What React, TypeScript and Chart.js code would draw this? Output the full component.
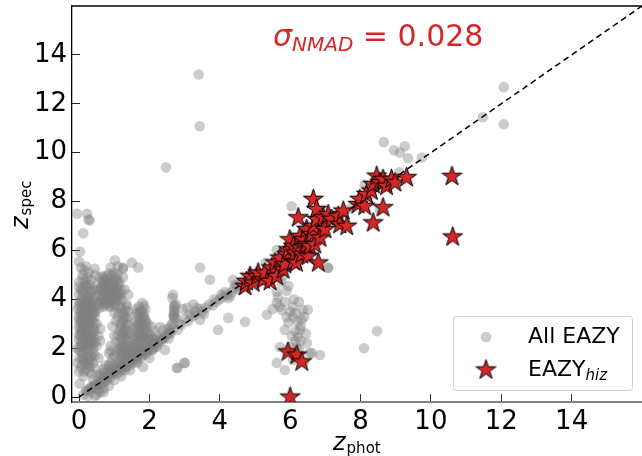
import React, { useEffect, useRef } from "react";
import { Chart, registerables } from "chart.js";
Chart.register(...registerables);

// ---------- data ----------
const axisMin = -0.2;
const axisMax = 16;
const axisTicks = [0, 2, 4, 6, 8, 10, 12, 14];
const oneToOne = [0, 16];
const sigmaNmad = "0.028";

// All EAZY (z_phot, z_spec)
const grayLeftColumn: [number, number][] = [
  [0.02,0.55],[0.12,0.85],[0.0,1.05],[0.2,1.15],[0.08,1.3],[0.3,1.05],[0.15,1.45],[0.02,1.6],[0.25,1.55],[0.4,1.4],
  [0.1,1.75],[0.3,1.8],[0.0,1.95],[0.18,1.95],[0.45,1.7],[0.55,1.6],[0.5,2.1],[0.6,2.3],[0.37,0.95],[0.45,1.2],
  [0.05,2.1],[0.2,2.15],[0.35,2.2],[0.0,2.35],[0.12,2.4],[0.28,2.4],[0.42,2.45],[0.06,2.6],[0.2,2.65],[0.35,2.65],
  [0.0,2.85],[0.14,2.85],[0.28,2.9],[0.42,2.85],[0.07,3.05],[0.22,3.1],[0.36,3.1],[0.0,3.3],[0.14,3.3],[0.3,3.3],
  [0.45,3.3],[0.06,3.5],[0.2,3.55],[0.36,3.5],[0.0,3.75],[0.13,3.75],[0.28,3.75],[0.42,3.7],[0.08,3.95],[0.22,3.95],
  [0.36,3.9],[0.1,2.25],[0.25,2.55],[0.04,2.75],[0.32,3.0],[0.17,3.2],[0.4,3.55],[0.1,3.6],[0.25,3.85],[0.15,2.5],
  [0.3,2.1],[0.2,3.4],[0.05,3.15],[0.55,2.5],[0.6,2.8],[0.5,3.0],
  [0.1,2.05],[0.25,2.1],[0.4,2.15],[0.03,2.5],[0.18,2.35],[0.33,2.45],[0.08,2.7],[0.24,2.75],[0.38,2.75],[0.02,3.0],
  [0.18,2.95],[0.3,3.15],[0.42,3.05],[0.1,3.2],[0.25,3.25],[0.38,3.35],[0.03,3.45],[0.15,3.45],[0.28,3.55],[0.08,3.7],
  [0.2,3.7],[0.34,3.65],[0.45,3.5],[0.0,3.9],[0.15,3.9],[0.3,3.95],[0.12,2.95],[0.22,2.25],[0.36,2.35],[0.05,2.25],
  [0.05,1.2],[0.2,1.35],[0.3,1.5],[0.1,1.55],[0.22,1.7],[0.35,1.65],[0.05,1.85],[0.25,1.95],[0.4,2.0],[0.15,1.05],
  [0.3,1.25],
  [-0.05,1.4],[0.12,1.6],[0.28,1.4],[0.4,1.8],[-0.05,2.0],[0.15,2.1],[0.32,2.3],[0.45,2.25],[0.0,2.55],[0.2,2.45],
  [0.38,2.6],[0.1,2.8],[0.25,2.95],[0.45,2.7],[0.0,3.15],[0.18,3.1],[0.35,3.2],[0.08,3.35],[0.28,3.45],[0.45,3.45],
  [-0.03,3.6],[0.18,3.6],[0.35,3.8],[0.05,3.85],[0.24,4.1],[0.4,4.0],[0.12,4.3],[0.3,4.35],[0.0,4.5],[0.15,4.55],
  [0.0,4.2],[0.15,4.25],[0.3,4.15],[0.45,4.1],[0.08,4.45],[0.25,4.5],[0.4,4.4],[0.0,4.7],[0.18,4.75],[0.35,4.8],
  [0.1,5.0],[0.28,5.1],[0.45,5.0],[0.05,5.3],[0.2,5.35],[0.0,5.55],[0.03,5.95],[0.12,6.7],[-0.06,7.5],[0.23,7.5],
  [0.27,7.27],[0.3,7.22],[0.1,4.1],[0.22,4.05],[0.35,4.3],[0.05,4.35],[0.2,4.6],[0.3,4.6],[0.1,4.85],[0.25,4.9],
  [0.15,5.2]
];
const grayMidCluster: [number, number][] = [
  [0.55,3.75],[0.7,3.7],[0.85,3.75],[1.0,3.8],[1.15,3.7],[0.62,3.95],[0.78,4.0],[0.92,3.95],[1.08,4.0],[1.22,3.95],
  [0.55,4.2],[0.7,4.2],[0.85,4.25],[1.0,4.2],[1.15,4.25],[0.62,4.45],[0.78,4.45],[0.92,4.5],[1.08,4.45],[0.7,4.7],
  [0.85,4.7],[1.0,4.75],[1.15,4.7],[0.6,4.9],[0.78,4.95],[0.95,5.0],[1.1,5.0],[0.72,4.35],[0.95,4.35],[0.82,3.85],
  [1.3,4.4],[1.35,3.8],[1.25,4.9],[1.4,4.2],[0.9,5.3],[1.02,5.6],[1.1,5.35],[1.25,5.3],[1.25,5.25],[1.5,5.5],
  [1.68,5.3],[0.45,5.25],[0.5,4.6],
  [0.6,3.85],[0.75,3.9],[0.9,3.85],[1.05,3.9],[0.65,4.1],[0.8,4.15],[0.95,4.1],[1.1,4.15],[0.6,4.35],[0.75,4.55],
  [0.88,4.4],[1.02,4.35],[1.2,4.4],[0.68,4.6],[0.82,4.6],[0.98,4.6],[1.12,4.6],[0.72,4.85],[0.88,4.85],[1.05,4.9],
  [0.65,4.75],[1.2,4.2],[0.5,3.9],[0.5,4.4],
  [0.58,3.65],[0.72,3.8],[0.88,3.7],[1.02,3.7],[0.68,4.0],[0.85,4.05],[1.0,4.05],[1.15,4.05],[0.68,4.3],[0.82,4.35],
  [0.95,4.25],[1.08,4.3],[0.72,4.5],[0.85,4.5],[1.0,4.5],[0.78,4.75],[0.92,4.7],[1.08,4.75],[0.68,4.95],[0.85,5.05],
  [1.0,5.1]
];
const grayLowCluster: [number, number][] = [
  [0.12,0.1],[0.2,0.25],[0.3,0.2],[0.35,0.4],[0.45,0.35],[0.5,0.55],[0.6,0.5],[0.65,0.7],[0.75,0.65],[0.8,0.85],
  [0.9,0.8],[0.95,1.0],[1.05,0.95],[1.1,1.15],[1.2,1.1],[1.25,1.3],[1.35,1.25],[1.4,1.45],[1.5,1.4],[1.55,1.6],
  [1.65,1.55],[1.7,1.75],[1.8,1.7],[1.85,1.9],[1.95,1.85],[2.0,2.05],[2.1,2.0],[2.15,2.2],[2.25,2.2],[2.3,2.35],
  [2.4,2.4],[2.5,2.55],[2.6,2.6],[0.5,0.1],[0.6,0.2],[0.4,0.7],[0.55,0.85],[0.7,1.0],[0.85,1.15],[0.75,1.3],
  [0.9,1.4],[1.0,1.3],[0.6,0.95],
  [0.25,0.3],[0.4,0.45],[0.55,0.5],[0.7,0.6],[0.8,0.7],[0.9,0.9],[1.0,1.05],[1.15,1.0],[1.3,1.2],[1.45,1.3],
  [1.6,1.45],[1.75,1.6],[1.9,1.75],[2.05,1.95],[2.2,2.05],[2.35,2.3],[2.45,2.45],[2.55,2.4],
  [0.3,0.35],[0.45,0.5],[0.6,0.65],[0.75,0.8],[0.9,1.0],[1.05,1.15],[1.2,1.3],[1.35,1.4],[1.5,1.5],[1.65,1.65],
  [1.8,1.8],[1.95,1.95],[2.1,2.15],[2.25,2.3],[2.4,2.5],[2.55,2.65],
  [0.7,0.2],[0.85,0.45],[1.0,0.7],[0.45,0.05],[0.25,0.05],[0.55,0.3],
  [0.65,0.85],[0.8,1.0],[0.95,1.2],[0.85,1.3],[1.0,1.7],[0.9,1.9],[0.7,1.15],
  [1.15,1.35],[1.3,1.5],[1.2,1.7],[1.35,1.85],[1.15,2.0],[1.3,2.15],[1.4,2.3],[1.2,2.4],[1.35,2.55],[1.15,2.7],
  [1.3,2.8],[1.4,2.95],[1.2,3.05],[1.35,3.2],[1.25,3.4],[1.4,3.5],[1.2,3.65],[1.35,3.7],[1.1,3.3],[1.45,2.6],
  [1.05,2.25],[1.25,1.95],
  [1.1,1.5],[1.25,1.6],[1.35,1.7],[1.2,1.85],[1.3,2.0],[1.15,2.2],[1.25,2.25],[1.38,2.4],[1.25,2.55],[1.1,2.55],
  [1.2,2.85],[1.35,3.0],[1.25,3.15],[1.15,3.45],[1.3,3.55],[1.28,2.65],[1.18,1.45],[1.3,1.1],
  [1.18,1.25],[1.32,1.4],[1.22,1.55],[1.38,1.6],[1.28,1.8],[1.15,1.9],[1.4,2.1],[1.2,2.1],[1.32,2.35],[1.22,2.6],
  [1.38,2.75],[1.18,2.95],[1.3,3.3],[1.42,3.3],
  [1.45,1.6],[1.5,1.8],[1.55,1.7],[1.45,2.0],[1.55,2.1],[1.5,1.55],
  [1.4,1.75],[1.5,1.7],[1.58,1.85],[1.48,1.9],[1.55,2.0],[1.6,2.15],[2.05,2.2],[2.0,2.35],[2.15,2.35],
  [0.95,1.6],[1.05,1.85],[0.9,2.1],[1.0,2.5],[0.95,2.9],[1.05,3.1],[0.85,1.8],[1.0,3.45],
  [1.6,1.9],[1.75,1.95],[1.9,2.05],[1.65,2.2],[1.8,2.25],[1.95,2.3],[1.7,2.45],[1.85,2.5],[2.0,2.55],[1.6,2.65],
  [1.75,2.7],[1.9,2.75],[1.65,2.95],[1.8,3.0],[1.95,3.0],[1.7,3.2],[1.85,3.25],[1.65,3.45],[1.8,3.5],[1.7,3.7],
  [1.85,3.75],[1.55,2.4],[1.5,2.0],[1.55,2.8],
  [1.7,2.05],[1.85,2.15],[1.65,2.35],[1.8,2.4],[1.95,2.45],[1.7,2.6],[1.85,2.65],[1.65,2.8],[1.8,2.85],[1.9,2.9],
  [1.75,3.1],[1.9,3.15],[1.7,3.35],[1.85,3.4],[1.75,3.55],[1.8,3.85],[1.6,3.1],[1.75,1.85],[1.62,1.7],[1.9,1.95],
  [1.68,1.95],[1.82,2.0],[1.72,2.3],[1.9,2.35],[1.62,2.5],[1.78,2.55],[1.95,2.65],[1.72,2.9],[1.88,3.05],[1.68,3.05],
  [1.82,3.3],[1.72,3.45],[1.88,3.6],[1.62,3.6],
  [2.1,2.4],[2.2,2.5],[2.3,2.87],[2.15,2.7],[2.4,2.75],[2.05,2.9],[2.44,1.93],[2.1,1.93],[1.82,1.23],[1.65,1.4],
  [2.2,2.1],[2.0,1.6],[1.45,1.1],[1.2,0.85],[0.7,0.35],[2.8,1.2],[3.0,1.4]
];
const grayMidDiagonal: [number, number][] = [
  [2.67,4.19],[2.7,3.2],[2.72,3.4],[2.7,3.6],[2.75,3.8],[2.65,3.0],[2.8,2.75],[2.55,2.8],[2.9,2.95],[3.07,3.65],
  [3.1,3.1],[3.2,3.3],[3.35,3.65],[3.3,3.35],[3.44,3.16],[3.5,3.5],[3.6,3.65],[3.44,5.3],[3.72,4.8],[3.8,3.75],
  [3.95,2.75],[3.9,3.9],[4.0,4.0],[4.1,4.1],[4.24,3.24],[4.2,4.2],[4.3,4.15],[4.35,4.3],[4.38,4.8],[4.4,4.45],
  [4.5,4.55],[4.6,4.6],[4.72,3.08],[4.65,4.75],[4.8,4.75],[3.0,1.4],[2.78,1.19],[2.95,3.6],[3.25,3.8],
  [2.6,2.9],[2.85,3.0],[3.0,3.2],[3.15,3.4],[3.3,3.5],[3.45,3.6],[3.55,3.4],[3.7,3.8],[3.85,4.0],[4.05,4.2],
  [4.15,4.3],[4.25,4.05],[4.45,4.6],[4.55,4.4],[2.7,3.3],[2.72,3.7],
  [2.7,3.5],[2.68,3.35],[2.74,3.25],[2.7,3.75],[2.65,4.05],[2.58,2.65],[2.68,2.8]
];
const graySpur: [number, number][] = [
  [5.34,3.37],[5.62,4.31],[5.62,3.86],[5.76,3.57],[5.9,3.28],[5.85,2.75],[6.08,3.69],[6.08,3.28],[6.36,3.57],[6.5,3.57],
  [6.33,3.16],[6.28,2.75],[6.22,2.46],[6.19,2.05],[5.62,1.4],[5.85,1.11],[6.08,1.52],[6.56,1.8],[6.0,2.05],[5.71,2.05],
  [6.48,2.2],[5.75,4.7],[5.9,4.35],[5.8,4.95],[6.1,4.0],[6.3,2.9],[6.25,3.9],[5.95,4.55],[6.62,1.8],[6.4,1.45],
  [6.85,1.72],[8.1,2.0],[8.47,2.7],[7.07,5.3],[6.15,2.3],
  [5.65,4.1],[5.7,3.7],[5.85,3.9],[6.0,3.5],[6.15,3.45],[6.2,3.1],[6.15,2.7],[6.05,2.5],[6.3,2.3],[6.25,1.95],
  [6.1,1.75],[5.9,1.9],[6.4,3.3],[5.95,3.05],[5.5,3.6],[6.45,2.6]
];
const grayHighZ: [number, number][] = [
  [5.0,5.0],[5.3,5.5],[5.6,5.6],[5.9,6.0],[6.2,6.3],[6.5,6.6],[6.8,7.0],[7.1,7.2],[7.4,7.4],[7.7,7.7],
  [8.0,8.0],[8.3,8.3],[8.6,8.6],[8.9,8.9],[9.1,9.2],[5.62,6.03],[6.04,7.81],[7.08,5.28],[8.12,8.7],[8.55,7.68],
  [8.66,10.43],[8.95,10.1],[9.12,10.0],[9.26,10.26],[9.35,9.77],[9.74,9.8],[11.48,11.45],[12.07,12.68],[12.07,11.16],
  [3.4,13.2],[3.43,11.08],[2.47,9.4]
];
// EAZY_hiz (z_phot, z_spec)
const hizPoints: [number, number][] = [
  [4.72,4.53],[4.76,4.73],[4.86,4.94],[4.95,4.67],[5.06,4.93],[5.09,5.08],[5.24,4.8],[5.28,5.08],[5.43,4.73],[5.47,5.28],
  [5.57,5.49],[5.62,4.94],[5.71,5.69],[5.8,5.21],[5.85,5.42],[5.9,5.83],[5.95,6.03],[5.99,6.44],[6.09,6.17],[6.09,5.55],
  [6.14,5.9],[6.18,5.49],[6.23,7.34],[6.28,6.1],[6.28,6.58],[6.33,5.83],[6.37,6.44],[6.47,6.24],[6.47,6.86],[6.51,5.76],
  [6.56,6.17],[6.61,6.65],[6.66,6.99],[6.66,8.09],[6.7,6.24],[6.75,7.27],[6.75,7.68],[6.8,5.49],[6.85,6.51],[6.94,7.34],
  [6.99,6.86],[7.08,7.47],[7.18,7.27],[7.37,7.4],[7.41,7.06],[7.51,7.61],[7.61,6.99],[7.93,7.88],[7.98,8.09],[8.12,7.81],
  [8.17,8.29],[8.31,8.43],[8.36,8.7],[8.36,7.13],[8.46,9.04],[8.55,8.77],[8.64,8.91],[8.64,7.75],[8.74,8.63],[8.88,8.91],
  [8.98,8.77],[9.31,8.98],[10.6,9.03],[10.62,6.55],[5.94,1.85],[6.19,1.72],[6.33,1.44],[6.0,0.0]
];

const allEazyPoints = [
  ...grayLeftColumn, ...grayMidCluster, ...grayLowCluster,
  ...grayMidDiagonal, ...graySpur, ...grayHighZ,
];

// ---------- styles ----------
const FONT = '"DejaVu Sans"';
const RED = "#d62728";
const GRAY = "rgba(128,128,128,0.4)";

function makeStar(R: number): HTMLCanvasElement {
  const r = R * 0.382;
  const size = Math.ceil(2 * R + 4);
  const c = document.createElement("canvas");
  c.width = size;
  c.height = size;
  const g = c.getContext("2d")!;
  g.translate(size / 2, size / 2);
  g.beginPath();
  for (let i = 0; i < 10; i++) {
    const rad = i % 2 === 0 ? R : r;
    const a = -Math.PI / 2 + (i * Math.PI) / 5;
    g.lineTo(rad * Math.cos(a), rad * Math.sin(a));
  }
  g.closePath();
  g.fillStyle = RED;
  g.fill();
  g.lineWidth = 1;
  g.strokeStyle = "#000";
  g.stroke();
  return c;
}

export default function App() {
  const ref = useRef<HTMLCanvasElement>(null);
  useEffect(() => {
    if (!ref.current) return;
    const star = makeStar(10.5);

    const overlay = {
      id: "overlay",
      afterDraw(chart: any) {
        const ctx = chart.ctx as CanvasRenderingContext2D;
        const { left, right, top } = chart.chartArea;
        ctx.save();
        // top frame
        ctx.strokeStyle = "#000";
        ctx.lineWidth = 1.3;
        ctx.beginPath();
        ctx.moveTo(left, top);
        ctx.lineTo(right, top);
        ctx.stroke();

        ctx.textBaseline = "alphabetic";
        ctx.textAlign = "left";
        // sigma annotation
        ctx.fillStyle = RED;
        let x = 273;
        const by = 46;
        ctx.font = `italic 30px ${FONT}`;
        ctx.fillText("σ", x, by);
        x += ctx.measureText("σ").width;
        ctx.font = `italic 20px ${FONT}`;
        ctx.fillText("NMAD", x, by + 5);
        x += ctx.measureText("NMAD").width;
        ctx.font = `30px ${FONT}`;
        ctx.fillText(" = " + sigmaNmad, x, by);

        // x title
        ctx.fillStyle = "#000";
        ctx.font = `italic 24px ${FONT}`;
        let tx = 333;
        ctx.fillText("z", tx, 450);
        tx += ctx.measureText("z").width + 1;
        ctx.font = `15px ${FONT}`;
        ctx.fillText("phot", tx, 453);

        // y title
        ctx.save();
        ctx.translate(28, 229);
        ctx.rotate(-Math.PI / 2);
        ctx.font = `italic 24px ${FONT}`;
        ctx.fillText("z", 0, 0);
        const zw = ctx.measureText("z").width + 1;
        ctx.font = `15px ${FONT}`;
        ctx.fillText("spec", zw, 3);
        ctx.restore();

        // legend
        const lx = 453, ly = 316, lw = 179, lh = 74;
        ctx.beginPath();
        (ctx as any).roundRect(lx + 0.5, ly + 0.5, lw, lh, 3);
        ctx.fillStyle = "rgba(255,255,255,0.8)";
        ctx.fill();
        ctx.strokeStyle = "#d0d0d0";
        ctx.lineWidth = 1;
        ctx.stroke();
        ctx.beginPath();
        ctx.arc(486, 337, 5.3, 0, Math.PI * 2);
        ctx.fillStyle = GRAY;
        ctx.fill();
        ctx.drawImage(star, 486 - star.width / 2, 370 - star.height / 2);
        ctx.fillStyle = "#000";
        ctx.font = `22px ${FONT}`;
        ctx.fillText("All EAZY", 528, 343);
        ctx.fillText("EAZY", 528, 376);
        const ew = ctx.measureText("EAZY").width;
        ctx.font = `italic 15px ${FONT}`;
        ctx.fillText("hiz", 528 + ew, 380);
        ctx.restore();
      },
    };

    const tickFont = { family: "DejaVu Sans", size: 26 };
    const setTicks = (scale: any) => {
      scale.ticks = axisTicks.map((v) => ({ value: v }));
    };

    const chart = new Chart(ref.current, {
      type: "scatter",
      data: {
        datasets: [
          {
            label: "EAZY_hiz",
            data: hizPoints.map(([x, y]) => ({ x, y })),
            pointStyle: star as any,
            pointRadius: 10,
            clip: 0 as any,
            order: 0,
          },
          {
            label: "1:1",
            data: oneToOne.map((v) => ({ x: v, y: v })),
            showLine: true,
            borderColor: "#000",
            borderWidth: 1.5,
            borderDash: [6, 4],
            pointRadius: 0,
            clip: 0 as any,
            order: 1,
          },
          {
            label: "All EAZY",
            data: allEazyPoints.map(([x, y]) => ({ x, y })),
            pointRadius: 5.3,
            backgroundColor: GRAY,
            borderWidth: 0,
            clip: 0 as any,
            order: 2,
          },
        ],
      },
      options: {
        responsive: false,
        animation: false,
        devicePixelRatio: 1,
        layout: { autoPadding: false, padding: { top: 6, right: 0, left: 0, bottom: 0 } },
        plugins: { legend: { display: false }, tooltip: { enabled: false } },
        scales: {
          x: {
            type: "linear",
            min: axisMin,
            max: axisMax,
            z: 1,
            afterBuildTicks: setTicks,
            afterFit: (s: any) => { s.height = 54; s.paddingLeft = 0; s.paddingRight = 0; },
            grid: { drawOnChartArea: false, drawTicks: true, tickLength: -8, tickColor: "#333", tickWidth: 1 },
            border: { color: "#808080", width: 2 },
            ticks: { font: tickFont, color: "#000", padding: 13, maxRotation: 0, autoSkip: false },
          },
          y: {
            type: "linear",
            min: axisMin,
            max: axisMax,
            z: 1,
            afterBuildTicks: setTicks,
            afterFit: (s: any) => { s.width = 72; s.paddingTop = 0; s.paddingBottom = 0; },
            grid: { drawOnChartArea: false, drawTicks: true, tickLength: -8, tickColor: "#222", tickWidth: 1 },
            border: { color: "#000", width: 1.3 },
            ticks: { font: tickFont, color: "#000", padding: 13, autoSkip: false },
          },
        },
      },
      plugins: [overlay],
    });
    return () => chart.destroy();
  }, []);

  return (
    <div style={{ position: "fixed", left: 0, top: 0, width: 642, height: 456, background: "#fff" }}>
      <canvas ref={ref} width={642} height={456} style={{ display: "block" }} />
    </div>
  );
}
